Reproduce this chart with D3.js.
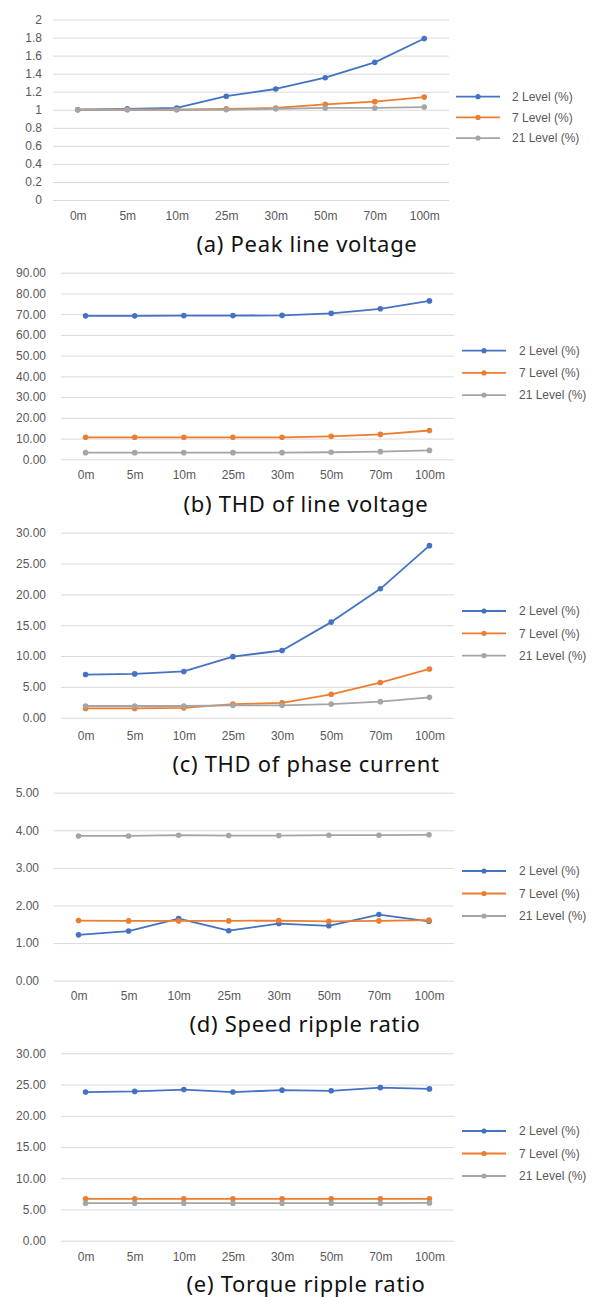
<!DOCTYPE html>
<html>
<head>
<meta charset="utf-8">
<script src="https://cdn.jsdelivr.net/npm/d3@7"></script>
<style>
  body { margin: 0; background: #fff; }
  svg { display: block; }
</style>
</head>
<body>
<svg id="chart" width="592" height="1297"></svg>
<script>
// Cable length categories shared by every panel
const categories = ["0m", "5m", "10m", "25m", "30m", "50m", "70m", "100m"];
const seriesNames = ["2 Level (%)", "7 Level (%)", "21 Level (%)"];
const seriesColors = ["#4472C4", "#ED7D31", "#A5A5A5"];

// (a) Peak line voltage
const peakVoltage2  = [1.00, 1.01, 1.02, 1.15, 1.23, 1.355, 1.525, 1.79];
const peakVoltage7  = [1.00, 1.00, 1.00, 1.01, 1.02, 1.06, 1.09, 1.14];
const peakVoltage21 = [1.00, 1.00, 1.00, 1.00, 1.01, 1.02, 1.02, 1.03];
const peakTicks = ["0", "0.2", "0.4", "0.6", "0.8", "1", "1.2", "1.4", "1.6", "1.8", "2"];

// (b) THD of line voltage
const thdVoltage2  = [69.2, 69.2, 69.3, 69.3, 69.4, 70.4, 72.6, 76.4];
const thdVoltage7  = [10.6, 10.6, 10.6, 10.6, 10.6, 11.1, 12.0, 13.9];
const thdVoltage21 = [3.2, 3.2, 3.2, 3.2, 3.2, 3.4, 3.7, 4.3];
const thdVoltageTicks = ["0.00", "10.00", "20.00", "30.00", "40.00", "50.00", "60.00", "70.00", "80.00", "90.00"];

// (c) THD of phase current
const thdCurrent2  = [7.0, 7.1, 7.5, 9.9, 10.9, 15.5, 20.9, 27.9];
const thdCurrent7  = [1.5, 1.5, 1.6, 2.2, 2.4, 3.8, 5.7, 7.9];
const thdCurrent21 = [1.9, 1.9, 1.9, 2.0, 2.0, 2.2, 2.6, 3.3];
const thdCurrentTicks = ["0.00", "5.00", "10.00", "15.00", "20.00", "25.00", "30.00"];

// (d) Speed ripple ratio
const speedRipple2  = [1.22, 1.32, 1.65, 1.33, 1.52, 1.46, 1.76, 1.58];
const speedRipple7  = [1.60, 1.59, 1.59, 1.59, 1.60, 1.58, 1.59, 1.61];
const speedRipple21 = [3.85, 3.85, 3.87, 3.86, 3.86, 3.87, 3.87, 3.88];
const speedTicks = ["0.00", "1.00", "2.00", "3.00", "4.00", "5.00"];

// (e) Torque ripple ratio
const torqueRipple2  = [23.8, 23.9, 24.2, 23.8, 24.1, 24.0, 24.5, 24.3];
const torqueRipple7  = [6.7, 6.7, 6.7, 6.7, 6.7, 6.7, 6.7, 6.7];
const torqueRipple21 = [6.0, 6.0, 6.0, 6.0, 6.0, 6.0, 6.0, 6.05];
const torqueTicks = ["0.00", "5.00", "10.00", "15.00", "20.00", "25.00", "30.00"];

// Panel layout (pixel frames) and the data each one plots
const panels = [
  { title: "(a) Peak line voltage", data: [peakVoltage2, peakVoltage7, peakVoltage21], ticks: peakTicks,
    left: 53, right: 449, top: 19.5, bottom: 200, tickX: 42, xLabelY: 221, titleY: 252, titleX: 307,
    legX: 456, legTextX: 512, legY: 96.7, legGap: 20.7 },
  { title: "(b) THD of line voltage", data: [thdVoltage2, thdVoltage7, thdVoltage21], ticks: thdVoltageTicks,
    left: 61, right: 454, top: 272.7, bottom: 459.3, tickX: 46, xLabelY: 480, titleY: 512, titleX: 306,
    legX: 462, legTextX: 519, legY: 350.7, legGap: 22.2 },
  { title: "(c) THD of phase current", data: [thdCurrent2, thdCurrent7, thdCurrent21], ticks: thdCurrentTicks,
    left: 61, right: 454, top: 532.7, bottom: 717.7, tickX: 46, xLabelY: 741, titleY: 772, titleX: 306,
    legX: 462, legTextX: 519, legY: 611, legGap: 22.3 },
  { title: "(d) Speed ripple ratio", data: [speedRipple2, speedRipple7, speedRipple21], ticks: speedTicks,
    left: 53.5, right: 454, top: 792.7, bottom: 980.7, tickX: 39, xLabelY: 1001, titleY: 1032, titleX: 305,
    legX: 462, legTextX: 519, legY: 871, legGap: 22.5 },
  { title: "(e) Torque ripple ratio", data: [torqueRipple2, torqueRipple7, torqueRipple21], ticks: torqueTicks,
    left: 61, right: 454, top: 1053.3, bottom: 1240.7, tickX: 46, xLabelY: 1262, titleY: 1292, titleX: 306,
    legX: 462, legTextX: 519, legY: 1131, legGap: 22.5 }
];

const svg = d3.select("#chart");
const tickFont = "'Liberation Sans', Arial, sans-serif";
const titleFont = "'Noto Sans', 'Open Sans', sans-serif";

panels.forEach(p => {
  const g = svg.append("g");
  const tickVals = p.ticks.map(Number);
  const yMax = d3.max(tickVals);

  const x = d3.scalePoint().domain(categories).range([p.left, p.right]).padding(0.5);
  const y = d3.scaleLinear().domain([0, yMax]).range([p.bottom, p.top]);

  // horizontal gridlines with value labels
  const yAxis = d3.axisLeft(y)
    .tickValues(tickVals)
    .tickSize(-(p.right - p.left))
    .tickPadding(p.left - p.tickX)
    .tickFormat((d, i) => p.ticks[i]);
  const ya = g.append("g").attr("transform", `translate(${p.left},0)`).call(yAxis);
  ya.select(".domain").remove();
  ya.selectAll(".tick line").attr("stroke", "#d9d9d9").attr("stroke-width", 1);
  ya.selectAll(".tick text")
    .attr("font-family", tickFont).attr("font-size", 12).attr("fill", "#595959");

  // category labels below the plot
  const xAxis = d3.axisBottom(x).tickSize(0).tickPadding(0);
  const xa = g.append("g").attr("transform", `translate(0,${p.xLabelY - 10})`).call(xAxis);
  xa.select(".domain").remove();
  xa.selectAll(".tick text")
    .attr("dy", "0.71em")
    .attr("font-family", tickFont).attr("font-size", 12).attr("fill", "#595959");

  // series lines and markers
  const line = d3.line()
    .x((d, i) => x(categories[i]))
    .y(d => y(d));

  p.data.forEach((vals, si) => {
    g.append("path")
      .datum(vals)
      .attr("d", line)
      .attr("fill", "none")
      .attr("stroke", seriesColors[si])
      .attr("stroke-width", 1.8)
      .attr("stroke-linejoin", "round");
    g.selectAll(null)
      .data(vals)
      .join("circle")
      .attr("cx", (d, i) => x(categories[i]))
      .attr("cy", d => y(d))
      .attr("r", 2.8)
      .attr("fill", seriesColors[si]);
  });

  // legend
  seriesNames.forEach((name, si) => {
    const ly = p.legY + si * p.legGap;
    const lg = g.append("g");
    lg.append("line")
      .attr("x1", p.legX).attr("x2", p.legX + 44)
      .attr("y1", ly).attr("y2", ly)
      .attr("stroke", seriesColors[si]).attr("stroke-width", 1.8);
    lg.append("circle")
      .attr("cx", p.legX + 22).attr("cy", ly).attr("r", 2.6)
      .attr("fill", seriesColors[si]);
    lg.append("text")
      .attr("x", p.legTextX).attr("y", ly)
      .attr("dy", "0.35em")
      .attr("font-family", tickFont).attr("font-size", 12)
      .attr("fill", "#595959")
      .text(name);
  });

  // panel caption
  g.append("text")
    .attr("x", p.titleX).attr("y", p.titleY)
    .attr("text-anchor", "middle")
    .attr("font-family", titleFont).attr("font-size", 22)
    .attr("letter-spacing", 0.7)
    .attr("fill", "#111")
    .text(p.title);
});
</script>
</body>
</html>
